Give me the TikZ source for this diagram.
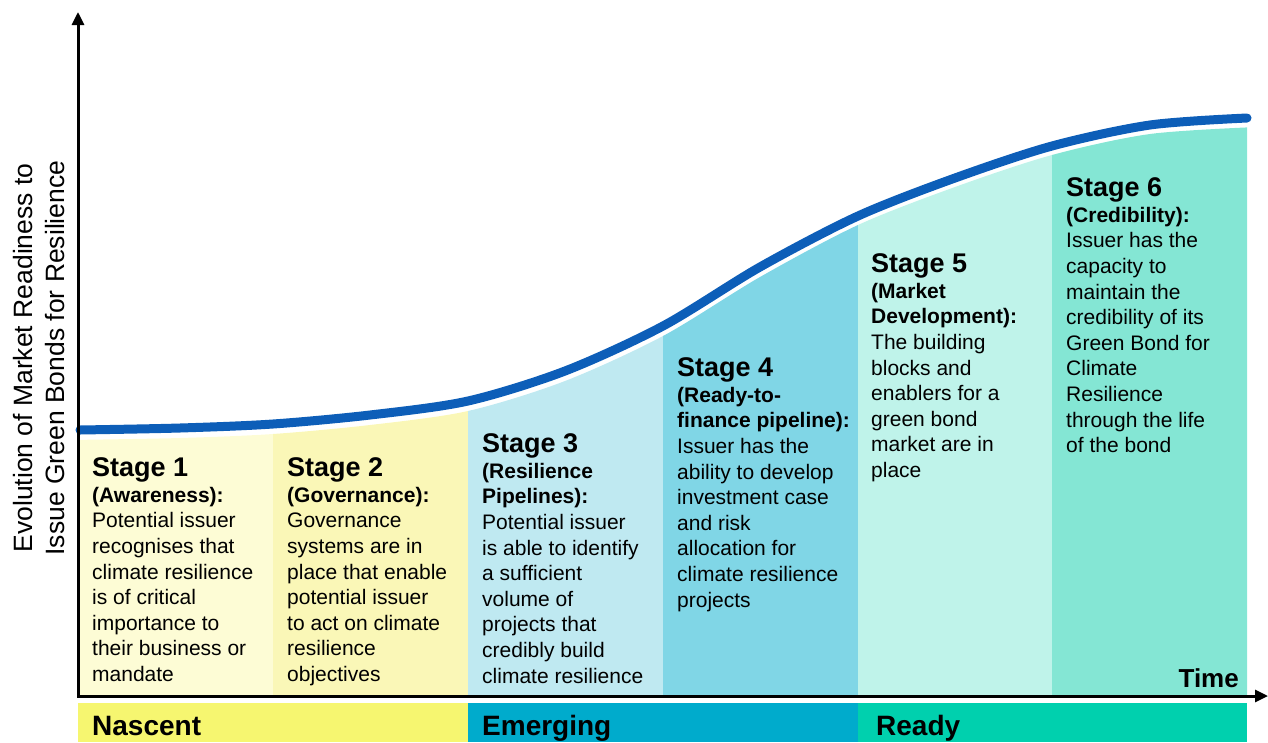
\documentclass[tikz,border=0pt]{standalone}
\usepackage{fontspec}
\setmainfont{Liberation Sans}
\usetikzlibrary{arrows.meta}
\definecolor{cs1}{RGB}{253,252,213}
\definecolor{cs2}{RGB}{250,247,183}
\definecolor{cs3}{RGB}{191,233,241}
\definecolor{cs4}{RGB}{128,214,230}
\definecolor{cs5}{RGB}{191,243,234}
\definecolor{cs6}{RGB}{132,230,212}
\definecolor{cnas}{RGB}{246,246,112}
\definecolor{cemg}{RGB}{0,171,204}
\definecolor{crdy}{RGB}{0,208,174}
\definecolor{cblue}{RGB}{13,94,184}
\newcommand{\curvepts}{(80,430) (180,428) (273,424) (370,415) (468,401) (565,371) (663,326) (760,267) (858,216) (955,178) (1052,146) (1150,125) (1247,118)}
\newcommand{\fillpts}{(70,440) (180,438) (273,434) (370,425) (468,411) (565,381) (663,336) (760,277) (858,225) (955,187) (1052,155) (1150,134) (1257,127)}
\newcommand{\fl}{\rule{0pt}{16pt}}
\begin{document}
\begin{tikzpicture}[x=1pt,y=-1pt,
  title/.style={anchor=base west,inner sep=0pt,font=\fontsize{27}{30}\selectfont\bfseries},
  body/.style={anchor=north west,inner sep=0pt,align=left,font=\fontsize{21}{25.6}\selectfont},
  phase/.style={anchor=base west,inner sep=0pt,font=\fontsize{28}{30}\selectfont\bfseries},
  axis/.style={line width=3pt,-{Triangle[length=13pt,width=12pt]}}]
\useasboundingbox (0,0) rectangle (1268,742);
% columns
\foreach \a/\b/\c in {78/273/cs1,273/468/cs2,468/663/cs3,663/858/cs4,858/1052/cs5,1052/1247/cs6}{
  \begin{scope}
    \clip (\a,0) rectangle (\b,696);
    \fill[\c] plot[smooth] coordinates {\fillpts} -- (1257,700) -- (70,700) -- cycle;
  \end{scope}
}
% curve
\draw[cblue,line width=9pt,line cap=round] plot[smooth] coordinates {\curvepts};
% phase bars
\fill[cnas] (78,703) rectangle (468,742);
\fill[cemg] (468,703) rectangle (858,742);
\fill[crdy] (858,703) rectangle (1247,742);
\node[phase] (nas) at (92,735) {Nascent};
\node[phase] (emg) at (482,735) {Emerging};
\node[phase] (rdy) at (876,735) {Ready};
% axes
\coordinate (o) at (78,696);
\coordinate (xe) at (1268,696);
\coordinate (ye) at (78,12);
\draw[axis] (o) -- (xe);
\draw[axis] ([yshift=-1.5pt]o) -- (ye);
\node[anchor=base east,inner sep=0pt,font=\fontsize{26}{30}\selectfont\bfseries] (time) at (1239,687) {Time};
\node[rotate=90,align=center,inner sep=0pt,font=\fontsize{26.5}{32}\selectfont] (ylab) at (39,358) {Evolution of Market Readiness to\\Issue Green Bonds for Resilience};
% stage texts
\node[title] (t1) at (92,476) {Stage 1};
\node[body] (b1) at (92,486) {\fl\textbf{(Awareness):}\\Potential issuer\\recognises that\\climate resilience\\is of critical\\importance to\\their business or\\mandate};
\node[title] (t2) at (287,476) {Stage 2};
\node[body] (b2) at (287,486) {\fl\textbf{(Governance):}\\Governance\\systems are in\\place that enable\\potential issuer\\to act on climate\\resilience\\objectives};
\node[title] (t3) at (482,452) {Stage 3};
\node[body] (b3) at (482,462) {\fl\textbf{(Resilience}\\\textbf{Pipelines):}\\Potential issuer\\is able to identify\\a sufficient\\volume of\\projects that\\credibly build\\climate resilience};
\node[title] (t4) at (677,376) {Stage 4};
\node[body] (b4) at (677,386) {\fl\textbf{(Ready-to-}\\\textbf{finance pipeline):}\\Issuer has the\\ability to develop\\investment case\\and risk\\allocation for\\climate resilience\\projects};
\node[title] (t5) at (871,272) {Stage 5};
\node[body] (b5) at (871,282) {\fl\textbf{(Market}\\\textbf{Development):}\\The building\\blocks and\\enablers for a\\green bond\\market are in\\place};
\node[title] (t6) at (1066,196) {Stage 6};
\node[body] (b6) at (1066,206) {\fl\textbf{(Credibility):}\\Issuer has the\\capacity to\\maintain the\\credibility of its\\Green Bond for\\Climate\\Resilience\\through the life\\of the bond};
\end{tikzpicture}
\end{document}
